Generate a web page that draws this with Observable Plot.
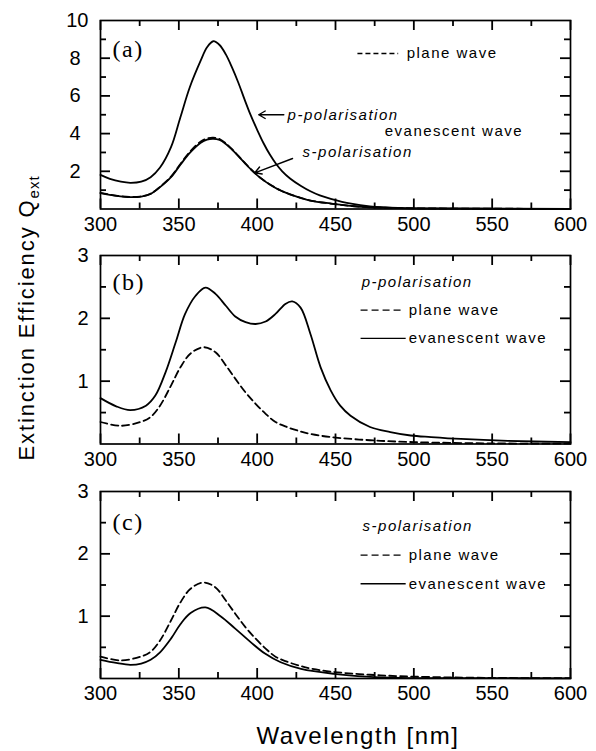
<!DOCTYPE html>
<html><head><meta charset="utf-8">
<script src="https://cdn.jsdelivr.net/npm/d3@7"></script>
<script src="https://cdn.jsdelivr.net/npm/@observablehq/plot@0.6"></script>
<style>
body{margin:0;background:#fff;}
#wrap{position:relative;width:596px;height:751px;background:#fff;font-family:"Liberation Sans",Arial,sans-serif;color:#000;overflow:hidden;}
.panel{position:absolute;left:0;}
#ylab{position:absolute;left:28px;top:318px;transform:translate(-50%,-50%) rotate(-90deg);white-space:nowrap;font-size:22px;letter-spacing:1.9px;line-height:1;}
#ylab sub{font-size:15px;letter-spacing:1px;vertical-align:-5px;}
#xlab{position:absolute;left:358px;top:724px;transform:translateX(-50%);font-size:24px;letter-spacing:1.6px;white-space:nowrap;line-height:1;}
</style></head>
<body>
<div id="wrap">
  <div class="panel" id="pa" style="top:0px"></div>
  <div class="panel" id="pb" style="top:240px"></div>
  <div class="panel" id="pc" style="top:480px"></div>
  <div id="ylab">Extinction Efficiency Q<sub>ext</sub></div>
  <div id="xlab">Wavelength [nm]</div>
</div>
<script>
// ---------- data (wavelength nm, Q_ext) ----------
const xTicks = [300, 350, 400, 450, 500, 550, 600];
const xMinorTicks = [325, 375, 425, 475, 525, 575];

// panel (a)
const aEvanescentP = [[300,1.81],[306,1.6],[313,1.45],[319,1.39],[326,1.45],[332,1.69],[338,2.2],[345,3.28],[351,4.87],[357,6.46],[364,7.88],[368,8.58],[372,8.9],[376,8.7],[380,8.2],[384,7.5],[388,6.7],[392,5.8],[396,4.95],[400,4.2],[404,3.5],[408,2.9],[412,2.4],[416,2.0],[421,1.62],[428,1.22],[434,0.94],[440,0.72],[447,0.54],[460,0.28],[472,0.14],[490,0.06],[520,0.03],[560,0.01],[600,0.01]];
const aEvanescentS = [[300,0.84],[310,0.7],[319,0.63],[326,0.66],[332,0.8],[338,1.16],[345,1.69],[351,2.35],[357,2.98],[364,3.52],[368,3.68],[372,3.72],[376,3.66],[380,3.45],[384,3.15],[388,2.8],[392,2.45],[396,2.1],[402,1.65],[409,1.25],[415,0.98],[421,0.78],[434,0.45],[447,0.29],[466,0.12],[490,0.05],[530,0.02],[600,0.01]];
const aPlaneWave = [[300,0.85],[310,0.71],[319,0.64],[326,0.67],[332,0.81],[338,1.18],[345,1.72],[351,2.39],[357,3.03],[364,3.58],[368,3.74],[372,3.78],[376,3.71],[380,3.48],[384,3.17],[388,2.82],[392,2.46],[396,2.11],[402,1.66],[409,1.26],[415,0.98],[421,0.78],[434,0.45],[447,0.29],[466,0.12],[490,0.05],[530,0.02],[600,0.01]];
const aYTicks = [2, 4, 6, 8];
const aYTopTick = [10];
const aYMinor = [1, 3, 5, 7, 9];

// panels (b) and (c)
const planeWave = [[300,0.35],[312.8,0.29],[325.5,0.35],[332,0.43],[338,0.61],[345,0.93],[351,1.22],[357.5,1.44],[365.8,1.54],[373.4,1.46],[380,1.25],[386,1.04],[392.6,0.82],[399,0.64],[405.4,0.48],[411.7,0.35],[419,0.27],[427.7,0.2],[434,0.16],[447,0.11],[472,0.06],[500,0.03],[550,0.01],[600,0.005]];
const bEvanescentP = [[300,0.73],[310,0.6],[319,0.54],[329,0.61],[335,0.77],[341.5,1.14],[348,1.62],[354,2.07],[360.7,2.36],[367,2.49],[373.4,2.39],[380,2.2],[386,2.03],[392.6,1.94],[399,1.91],[405.4,1.95],[411.7,2.07],[418,2.23],[422.4,2.27],[427.7,2.17],[434,1.75],[440.5,1.22],[447,0.85],[453,0.61],[459.6,0.45],[472,0.27],[485,0.19],[498,0.135],[511,0.11],[530,0.08],[560,0.05],[600,0.03]];
const cEvanescentS = [[300,0.3],[310,0.25],[319,0.22],[326,0.24],[332,0.3],[338,0.42],[345,0.64],[351,0.87],[357.5,1.05],[367,1.14],[376.6,1.0],[386,0.8],[396,0.58],[405,0.4],[415,0.26],[428,0.155],[449,0.075],[470,0.03],[491.5,0.01],[550,0.005],[600,0.003]];
const bcYTicks = [1, 2];
const bcYTopTick = [3];
const bcYMinor = [0.5, 1.5, 2.5];

const labelsA = {panel: "(a)", plane: "plane wave", p: "p-polarisation", s: "s-polarisation", ev: "evanescent wave"};
const labelsB = {panel: "(b)", title: "p-polarisation", plane: "plane wave", ev: "evanescent wave"};
const labelsC = {panel: "(c)", title: "s-polarisation", plane: "plane wave", ev: "evanescent wave"};

// ---------- helpers ----------
const pts = arr => arr.map(([x, y]) => ({x, y}));
const DASH = "7,4";
const LW = 1.8;
const legendFont = {fontSize: 15, fontFamily: "Liberation Sans, Arial, sans-serif", textAnchor: "start", fill: "black"};
const W = 596, ML = 100, MR = 26;
const FW = W - ML - MR;
const MAJ = 10, MIN = 6;

function axes(yMajor, yTop, yMinor, padMajor, padTop, FH) {
  const t = {stroke: "black", strokeWidth: 1.8};
  return [
    Plot.tickX(xTicks, {x: d => d, insetTop: FH - MAJ, ...t}),
    Plot.tickX(xMinorTicks, {x: d => d, insetTop: FH - MIN, ...t}),
    Plot.tickX(xTicks, {x: d => d, insetBottom: FH - MAJ, ...t}),
    Plot.tickX(xMinorTicks, {x: d => d, insetBottom: FH - MIN, ...t}),
    Plot.tickY(yMajor, {y: d => d, insetRight: FW - MAJ, ...t}),
    Plot.tickY(yMinor, {y: d => d, insetRight: FW - MIN, ...t}),
    Plot.tickY(yMajor, {y: d => d, insetLeft: FW - MAJ, ...t}),
    Plot.tickY(yMinor, {y: d => d, insetLeft: FW - MIN, ...t}),
    Plot.axisX(xTicks, {anchor: "bottom", tickSize: 0, tickPadding: 7.5, label: null, tickFormat: d => String(d)}),
    Plot.axisY(yMajor, {anchor: "left", tickSize: 0, tickPadding: padMajor, label: null, tickFormat: d => String(d)}),
    Plot.axisY(yTop, {anchor: "left", tickSize: 0, tickPadding: padTop, label: null, tickFormat: d => String(d)}),
    Plot.frame({stroke: "black", strokeWidth: 1.7})
  ];
}

function makePlot({yDomain, height, marginTop, marginBottom, marks}) {
  return Plot.plot({
    width: W, height, marginLeft: ML, marginRight: MR, marginTop, marginBottom,
    x: {domain: [300, 600]},
    y: {domain: yDomain},
    style: {fontFamily: "Liberation Sans, Arial, sans-serif", fontSize: "20px", background: "transparent", color: "black", overflow: "visible"},
    marks
  });
}

function spaceText(svg) {
  d3.select(svg).selectAll('g[aria-label="text"] text').attr("letter-spacing", "1.5px");
}

// ---------- panel (a) ----------
const plotA = makePlot({
  yDomain: [0, 10], height: 240, marginTop: 20, marginBottom: 31.5,
  marks: [
    Plot.line(pts(aPlaneWave), {x: "x", y: "y", stroke: "black", strokeWidth: LW, strokeDasharray: DASH, curve: "catmull-rom"}),
    Plot.line(pts(aEvanescentS), {x: "x", y: "y", stroke: "black", strokeWidth: LW, curve: "catmull-rom"}),
    Plot.line(pts(aEvanescentP), {x: "x", y: "y", stroke: "black", strokeWidth: LW, curve: "catmull-rom"}),
    Plot.link([{x1: 464, x2: 490, y: 8.25}], {x1: "x1", x2: "x2", y1: "y", y2: "y", stroke: "black", strokeWidth: 1.3, strokeDasharray: "5,3"}),
    Plot.text([{x: 495.4, y: 8.25, t: labelsA.plane}], {x: "x", y: "y", text: "t", ...legendFont}),
    Plot.arrow([{x1: 417, y1: 5.0, x2: 401, y2: 5.0}], {x1: "x1", y1: "y1", x2: "x2", y2: "y2", stroke: "black", strokeWidth: 1.4, headLength: 8}),
    Plot.text([{x: 419.4, y: 4.96, t: labelsA.p}], {x: "x", y: "y", text: "t", ...legendFont, fontStyle: "italic"}),
    Plot.text([{x: 481.4, y: 4.11, t: labelsA.ev}], {x: "x", y: "y", text: "t", ...legendFont}),
    Plot.text([{x: 429, y: 3.0, t: labelsA.s}], {x: "x", y: "y", text: "t", ...legendFont, fontStyle: "italic"}),
    Plot.arrow([{x1: 422.6, y1: 2.68, x2: 398.5, y2: 1.92}], {x1: "x1", y1: "y1", x2: "x2", y2: "y2", stroke: "black", strokeWidth: 1.4, headLength: 8}),
    Plot.text([labelsA.panel], {frameAnchor: "top-left", dx: 12, dy: 19, textAnchor: "start", lineAnchor: "top", fontFamily: "Liberation Serif, Times New Roman, serif", fontSize: 24, fill: "black"}),
    ...axes(aYTicks, aYTopTick, aYMinor, 20, 12, 188.5)
  ]
});
spaceText(plotA);
document.getElementById("pa").appendChild(plotA);

// ---------- panel (b) ----------
const plotB = makePlot({
  yDomain: [0, 3], height: 240, marginTop: 15, marginBottom: 36.5,
  marks: [
    Plot.line(pts(planeWave), {x: "x", y: "y", stroke: "black", strokeWidth: LW, strokeDasharray: DASH, curve: "catmull-rom"}),
    Plot.line(pts(bEvanescentP), {x: "x", y: "y", stroke: "black", strokeWidth: LW, curve: "catmull-rom"}),
    Plot.text([{x: 466.7, y: 2.57, t: labelsB.title}], {x: "x", y: "y", text: "t", ...legendFont, fontStyle: "italic"}),
    Plot.link([{x1: 466, x2: 491.6, y: 2.13}], {x1: "x1", x2: "x2", y1: "y", y2: "y", stroke: "black", strokeWidth: 1.3, strokeDasharray: "7,4"}),
    Plot.text([{x: 496.7, y: 2.13, t: labelsB.plane}], {x: "x", y: "y", text: "t", ...legendFont}),
    Plot.link([{x1: 466, x2: 494.8, y: 1.68}], {x1: "x1", x2: "x2", y1: "y", y2: "y", stroke: "black", strokeWidth: 1.3}),
    Plot.text([{x: 496.7, y: 1.68, t: labelsB.ev}], {x: "x", y: "y", text: "t", ...legendFont}),
    Plot.text([labelsB.panel], {frameAnchor: "top-left", dx: 12, dy: 17, textAnchor: "start", lineAnchor: "top", fontFamily: "Liberation Serif, Times New Roman, serif", fontSize: 24, fill: "black"}),
    ...axes(bcYTicks, bcYTopTick, bcYMinor, 12, 12, 188.5)
  ]
});
spaceText(plotB);
document.getElementById("pb").appendChild(plotB);

// ---------- panel (c) ----------
const plotC = makePlot({
  yDomain: [0, 3], height: 271, marginTop: 11, marginBottom: 73,
  marks: [
    Plot.line(pts(planeWave), {x: "x", y: "y", stroke: "black", strokeWidth: LW, strokeDasharray: DASH, curve: "catmull-rom"}),
    Plot.line(pts(cEvanescentS), {x: "x", y: "y", stroke: "black", strokeWidth: LW, curve: "catmull-rom"}),
    Plot.text([{x: 467.3, y: 2.45, t: labelsC.title}], {x: "x", y: "y", text: "t", ...legendFont, fontStyle: "italic"}),
    Plot.link([{x1: 466, x2: 491.6, y: 1.98}], {x1: "x1", x2: "x2", y1: "y", y2: "y", stroke: "black", strokeWidth: 1.3, strokeDasharray: "7,4"}),
    Plot.text([{x: 496.7, y: 1.98, t: labelsC.plane}], {x: "x", y: "y", text: "t", ...legendFont}),
    Plot.link([{x1: 466, x2: 494.8, y: 1.52}], {x1: "x1", x2: "x2", y1: "y", y2: "y", stroke: "black", strokeWidth: 1.3}),
    Plot.text([{x: 496.7, y: 1.52, t: labelsC.ev}], {x: "x", y: "y", text: "t", ...legendFont}),
    Plot.text([labelsC.panel], {frameAnchor: "top-left", dx: 12, dy: 21, textAnchor: "start", lineAnchor: "top", fontFamily: "Liberation Serif, Times New Roman, serif", fontSize: 24, fill: "black"}),
    ...axes(bcYTicks, bcYTopTick, bcYMinor, 12, 12, 187)
  ]
});
spaceText(plotC);
document.getElementById("pc").appendChild(plotC);
</script>
</body></html>
